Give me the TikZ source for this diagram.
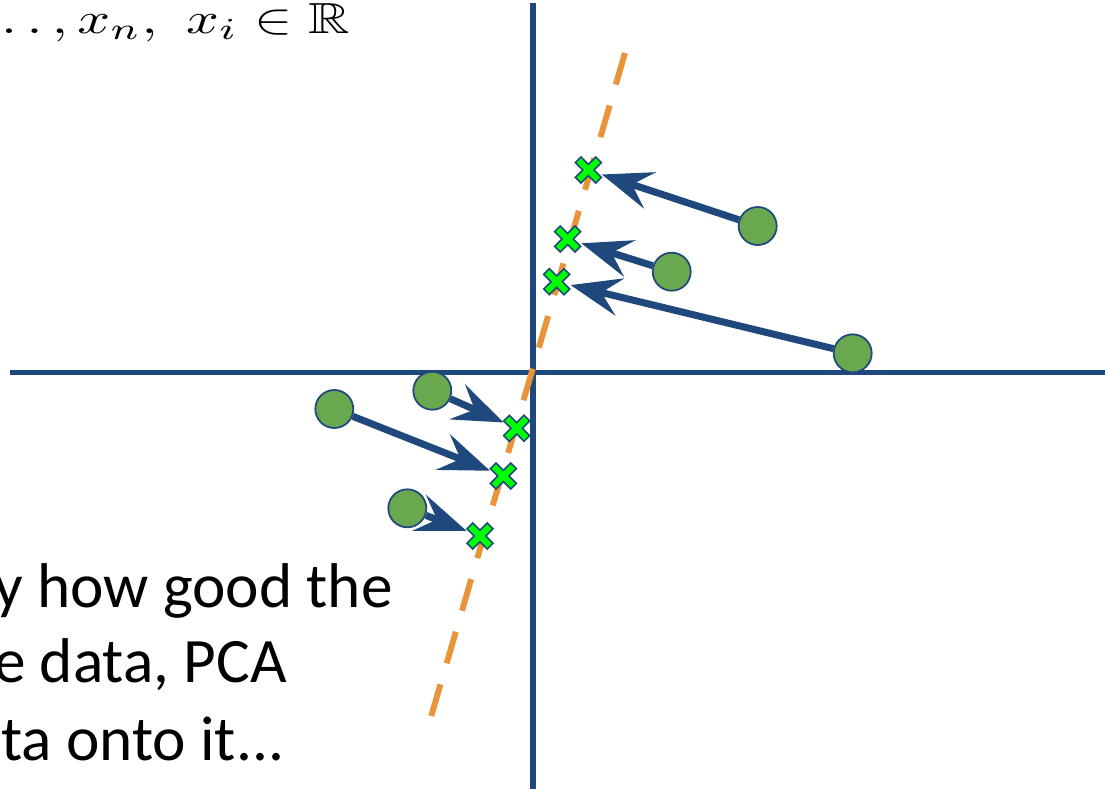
\documentclass[tikz,border=0pt]{standalone}
\usepackage{amssymb}
\usepackage{graphicx}
\usepackage{fontspec}
\newfontfamily\calibri{Carlito}
\definecolor{axisBlue}{HTML}{1F497D}
\definecolor{fitOrange}{HTML}{E8943A}
\definecolor{dotGreen}{HTML}{6AA84F}
\definecolor{projGreen}{HTML}{00FF00}
\usetikzlibrary{arrows.meta}

\begin{document}
\begin{tikzpicture}[x=0.02cm, y=-0.02cm,
      axis/.style={axisBlue, line width=3.4pt},
      fitline/.style={fitOrange, line width=3.4pt, dash pattern=on 18.7pt off 12.5pt},
      datum/.style={circle, draw=axisBlue, line width=1pt, fill=dotGreen, minimum size=0.76cm, inner sep=0pt},
      proj/.style={circle, minimum size=0.56cm, inner sep=0pt},
      arr/.style={-{Stealth[length=29pt, width=22pt, inset=11pt, line width=0pt]}, axisBlue, line width=4pt},
      txt/.style={font=\calibri\fontsize{36}{43}\selectfont, inner sep=0pt},
      pics/xmark/.style={code={\draw[axisBlue, line width=0.9pt, fill=projGreen, line join=miter, rotate=45]
          (4,14.4) -- (4,4) -- (14.4,4) -- (14.4,-4) -- (4,-4) -- (4,-14.4) -- (-4,-14.4) -- (-4,-4)
          -- (-14.4,-4) -- (-14.4,4) -- (-4,4) -- (-4,14.4) -- cycle;}}]
    \useasboundingbox (0,0) rectangle (1105,788);

    \coordinate (yTop) at (533,3);
    \coordinate (yBot) at (533,790);
    \coordinate (xLeft) at (10,372.5);
    \coordinate (xRight) at (1107,372.5);
    \draw[axis] (yTop) -- (yBot);
    \draw[axis] (xLeft) -- (xRight);

    \coordinate (fTop) at (625,53);
    \coordinate (fBot) at (428,727);
    \draw[fitline] (fTop) -- (fBot);

    \node[datum] (d1) at (757.7,226) {};
    \node[datum] (d2) at (671.7,271.7) {};
    \node[datum] (d3) at (852.7,353.3) {};
    \node[datum] (d4) at (432.3,390.7) {};
    \node[datum] (d5) at (334.3,409) {};
    \node[datum] (d6) at (407.3,508.3) {};

    \node[proj] (p1) at (588.3,170) {};
    \node[proj] (p2) at (567.7,239) {};
    \node[proj] (p3) at (556.7,281.7) {};
    \node[proj] (p4) at (516.7,428.3) {};
    \node[proj] (p5) at (503.3,476) {};
    \node[proj] (p6) at (480,536) {};

    \foreach \i in {1,...,6} {
      \draw[arr] (d\i) -- (p\i);
      \pic at (p\i) {xmark};
    }

    \node[anchor=base east, inner sep=0pt] (given) at (350,33)
      {\resizebox{7.48cm}{0.6cm}{$\ldots,x_n,\ x_i\in\mathbb{R}$}};
    \node[txt, anchor=base east] (t1) at (393,607) {y how good the};
    \node[txt, anchor=base east] (t2) at (287,682) {e data, PCA};
    \node[txt, anchor=base west] (t3) at (1,760) {ta onto it...};
  \end{tikzpicture}
\end{document}
